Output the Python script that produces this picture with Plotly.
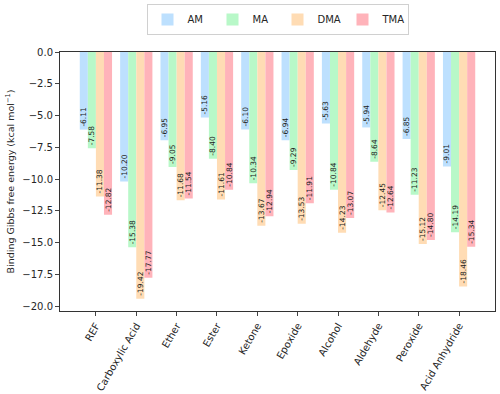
import plotly.graph_objects as go

# Functional groups on the x axis
groups = ["REF", "Carboxylic Acid", "Ether", "Ester", "Ketone", "Epoxide",
          "Alcohol", "Aldehyde", "Peroxide", "Acid Anhydride"]

# Binding Gibbs free energy per amine (kcal/mol)
am = [-6.11, -10.20, -6.95, -5.16, -6.10, -6.94, -5.63, -5.94, -6.85, -9.01]
ma = [-7.58, -15.38, -9.05, -8.40, -10.34, -9.29, -10.84, -8.64, -11.23, -14.19]
dma = [-11.38, -19.42, -11.68, -11.61, -13.67, -13.53, -14.23, -12.45, -15.12, -18.46]
tma = [-12.82, -17.77, -11.54, -10.84, -12.94, -11.91, -13.07, -12.64, -14.80, -15.34]

# y ticks (matplotlib style, with a true minus sign)
y_ticks = [0.0, -2.5, -5.0, -7.5, -10.0, -12.5, -15.0, -17.5, -20.0]
y_labels = ["0.0", "−2.5", "−5.0", "−7.5", "−10.0", "−12.5", "−15.0", "−17.5", "−20.0"]

series = [("AM", am, "#bde0fe"), ("MA", ma, "#b8f8c8"),
          ("DMA", dma, "#ffdcb4"), ("TMA", tma, "#ffb3ba")]

fig = go.Figure()
for name, vals, col in series:
    fig.add_trace(go.Bar(
        x=groups, y=vals, name=name,
        marker=dict(color=col, line=dict(width=0)),
        text=["%.2f" % v for v in vals],
        textposition="inside", insidetextanchor="end", textangle=-90,
        constraintext="none",
        textfont=dict(size=7.5, color="#222"),
    ))

fig.update_layout(
    width=500, height=394,
    barmode="group", bargap=0.2, bargroupgap=0,
    paper_bgcolor="white", plot_bgcolor="white",
    font=dict(family="DejaVu Sans", size=10, color="#262626"),
    margin=dict(l=60, r=5, t=52, b=83, autoexpand=False),
    uniformtext=dict(minsize=7.5, mode="show"),
    legend=dict(orientation="h", x=0.5, xanchor="center", y=1.185, yanchor="top",
                bordercolor="#d0d0d0", borderwidth=1, font=dict(size=10),
                entrywidth=20, entrywidthmode="pixels", itemwidth=30),
    xaxis=dict(tickangle=-60, ticks="outside", ticklen=4, showline=True,
               linecolor="#333", linewidth=1, mirror=True, showgrid=False,
               range=[-0.89, 9.89], automargin=False,
               tickfont=dict(family="DejaVu Sans", size=10)),
    yaxis=dict(range=[-20.39, 0], tickmode="array", tickvals=y_ticks, ticktext=y_labels,
               ticks="outside", ticklen=4, showline=True, linecolor="#333", linewidth=1,
               mirror=True, showgrid=False, zeroline=False, automargin=False,
               tickfont=dict(family="DejaVu Sans", size=10),
               title=dict(text="Binding Gibbs free energy (kcal mol<sup>−1</sup>)",
                          font=dict(size=9.5), standoff=6)),
)

# drop the default body margin so the figure sits at the window's top-left
fig.write_html("out.html", config={"displayModeBar": False},
               post_script="document.body.style.margin='0';")
